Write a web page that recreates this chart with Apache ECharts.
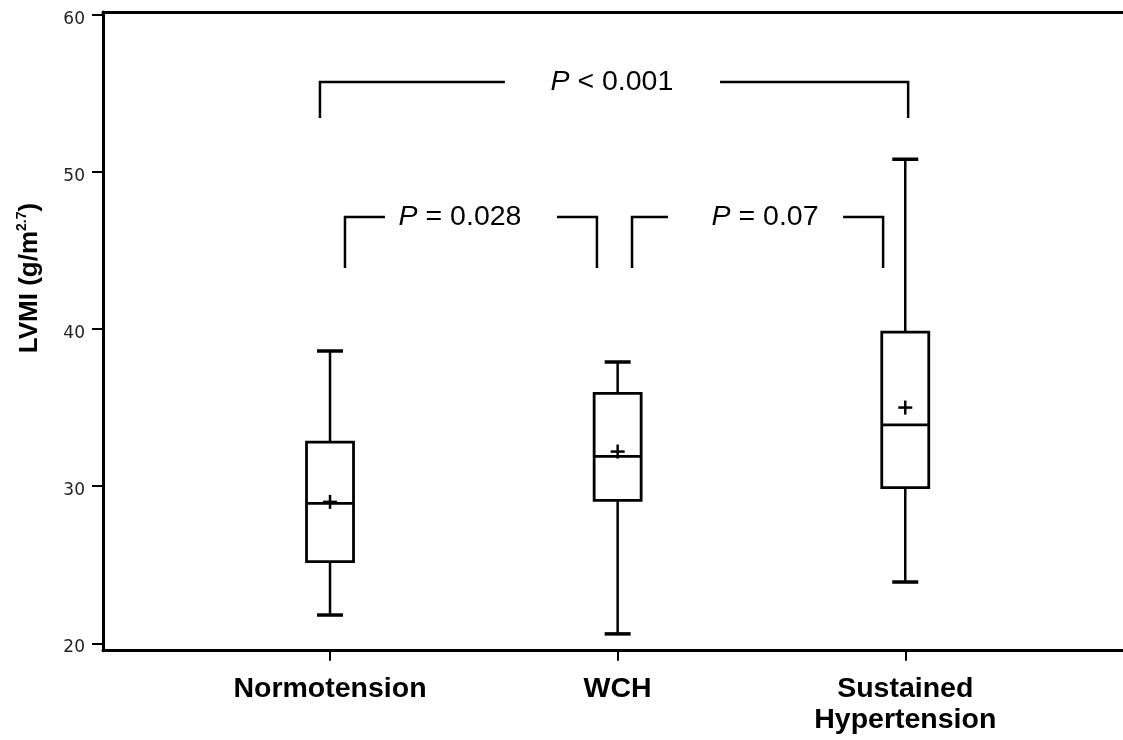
<!DOCTYPE html>
<html><head><meta charset="utf-8">
<script src="https://cdn.jsdelivr.net/npm/echarts@6/dist/echarts.min.js"></script>
<style>html,body{margin:0;padding:0;background:#fff}#c{width:1123px;height:740px}</style>
</head><body><div id="c"></div>
<script>
// ---- data ----
const categories = ['Normotension', 'WCH', 'Sustained\nHypertension'];
const categoryPos = [1, 2, 3];
const whiskerMin = [21.8, 20.6, 23.9];
const q1 = [25.2, 29.1, 29.9];
const median = [28.9, 31.9, 33.9];
const q3 = [32.8, 35.9, 39.8];
const whiskerMax = [38.6, 37.9, 50.8];
const mean = [29.0, 32.2, 35.0];
const yTicks = [20, 30, 40, 50, 60];

// significance brackets (data units)
const pRelation = ['<', '=', '='];
const pValue = ['0.001', '0.028', '0.07'];
const bracketLeft = [0.965, 1.052, 2.050];
const bracketRight = [3.010, 1.928, 2.923];
const bracketGapLeft = [1.608, 1.191, 2.175];
const bracketGapRight = [2.356, 1.789, 2.784];
const bracketTop = [55.72, 47.12, 47.12];
const bracketBottom = [53.43, 43.88, 43.88];
const bracketLabelX = [1.98, 1.452, 2.5125];

const FONT = '"Liberation Sans", Arial, sans-serif';

const boxData = categoryPos.map((x, i) => [x, whiskerMin[i], q1[i], median[i], q3[i], whiskerMax[i], mean[i]]);
const bracketData = bracketLeft.map((l, i) => [l, bracketRight[i], bracketGapLeft[i], bracketGapRight[i], bracketTop[i], bracketBottom[i], bracketLabelX[i], i]);

const chart = echarts.init(document.getElementById('c'), null, {renderer: 'canvas'});

const X_MIN = 0.2107, X_MAX = 3.757;
const Y_MIN = 19.53, Y_MAX = 60.17;

chart.setOption({
  animation: false,
  backgroundColor: '#fff',
  textStyle: {fontFamily: FONT},
  grid: {left: 103, right: 0, top: 12, bottom: 89.3, containLabel: false, outerBoundsMode: 'none'},
  xAxis: [{
    type: 'value', min: X_MIN, max: X_MAX, position: 'bottom',
    splitLine: {show: false},
    axisLine: {show: true, lineStyle: {color: '#000', width: 3}},
    axisTick: {show: true, length: 10, customValues: categoryPos, lineStyle: {color: '#000', width: 2}},
    axisLabel: {
      show: true, customValues: categoryPos, margin: 23,
      formatter: v => categories[categoryPos.indexOf(v)] || '',
      fontFamily: FONT, fontWeight: 'bold', fontSize: 28.5, lineHeight: 31, color: '#000', align: 'center'
    }
  }, {
    type: 'value', min: X_MIN, max: X_MAX, position: 'top',
    splitLine: {show: false},
    axisLine: {show: true, lineStyle: {color: '#000', width: 3}},
    axisTick: {show: false}, axisLabel: {show: false}
  }],
  yAxis: {
    type: 'value', min: Y_MIN, max: Y_MAX,
    splitLine: {show: false},
    axisLine: {show: true, lineStyle: {color: '#000', width: 3}},
    axisTick: {show: true, length: 11, customValues: yTicks, lineStyle: {color: '#000', width: 2}},
    axisLabel: {show: true, customValues: yTicks, margin: 18, verticalAlign: 'top', lineHeight: 9,
      fontFamily: '"DejaVu Sans", sans-serif', fontSize: 17, color: '#222'}
  },
  graphic: [{
    type: 'text', x: 30, y: 278, rotation: Math.PI / 2,
    style: {
      text: '{b|LVMI (g/m}{s|2.7}{b|)}',
      align: 'center', verticalAlign: 'middle',
      rich: {
        b: {fontFamily: FONT, fontWeight: 'bold', fontSize: 26, lineHeight: 30, fill: '#000'},
        s: {fontFamily: FONT, fontWeight: 'bold', fontSize: 14, lineHeight: 15, verticalAlign: 'top', fill: '#000'}
      }
    }
  }],
  series: [{
    type: 'custom',
    data: boxData,
    renderItem: function (params, api) {
      const x = api.value(0);
      const c = v => api.coord([x, v]);
      const pMin = c(api.value(1)), pQ1 = c(api.value(2)), pMed = c(api.value(3)),
            pQ3 = c(api.value(4)), pMax = c(api.value(5)), pMean = c(api.value(6));
      const cx = pMin[0];
      const hb = 23.5, hc = 13, hp = 7;
      const ls = {stroke: '#000', lineWidth: 2.5, fill: null};
      return {
        type: 'group',
        children: [
          {type: 'line', shape: {x1: cx, y1: pQ3[1], x2: cx, y2: pMax[1]}, style: ls},
          {type: 'line', shape: {x1: cx, y1: pQ1[1], x2: cx, y2: pMin[1]}, style: ls},
          {type: 'line', shape: {x1: cx - hc, y1: pMax[1], x2: cx + hc, y2: pMax[1]}, style: Object.assign({}, ls, {lineWidth: 3.5})},
          {type: 'line', shape: {x1: cx - hc, y1: pMin[1], x2: cx + hc, y2: pMin[1]}, style: Object.assign({}, ls, {lineWidth: 3.5})},
          {type: 'rect', shape: {x: cx - hb, y: pQ3[1], width: 2 * hb, height: pQ1[1] - pQ3[1]}, style: {stroke: '#000', lineWidth: 2.8, fill: '#fff'}},
          {type: 'line', shape: {x1: cx - hb, y1: pMed[1], x2: cx + hb, y2: pMed[1]}, style: Object.assign({}, ls, {lineWidth: 2.8})},
          {type: 'line', shape: {x1: cx - hp, y1: pMean[1], x2: cx + hp, y2: pMean[1]}, style: ls},
          {type: 'line', shape: {x1: cx, y1: pMean[1] - hp, x2: cx, y2: pMean[1] + hp}, style: ls}
        ]
      };
    }
  }, {
    type: 'custom',
    data: bracketData,
    renderItem: function (params, api) {
      const l = api.value(0), r = api.value(1), gl = api.value(2), gr = api.value(3),
            t = api.value(4), b = api.value(5), lx = api.value(6), idx = api.value(7);
      const ls = {stroke: '#000', lineWidth: 2.5, fill: null};
      const pt = api.coord([lx, t]);
      return {
        type: 'group',
        children: [
          {type: 'polyline', shape: {points: [api.coord([l, b]), api.coord([l, t]), api.coord([gl, t])]}, style: ls},
          {type: 'polyline', shape: {points: [api.coord([gr, t]), api.coord([r, t]), api.coord([r, b])]}, style: ls},
          {type: 'text', x: pt[0], y: pt[1], style: {
            text: '{i|P} ' + pRelation[idx] + ' ' + pValue[idx],
            align: 'center', verticalAlign: 'middle',
            fontFamily: FONT, fontSize: 28.5, fill: '#000',
            rich: {i: {fontFamily: FONT, fontStyle: 'italic', fontSize: 28.5, fill: '#000'}}
          }}
        ]
      };
    }
  }]
});
</script></body></html>
